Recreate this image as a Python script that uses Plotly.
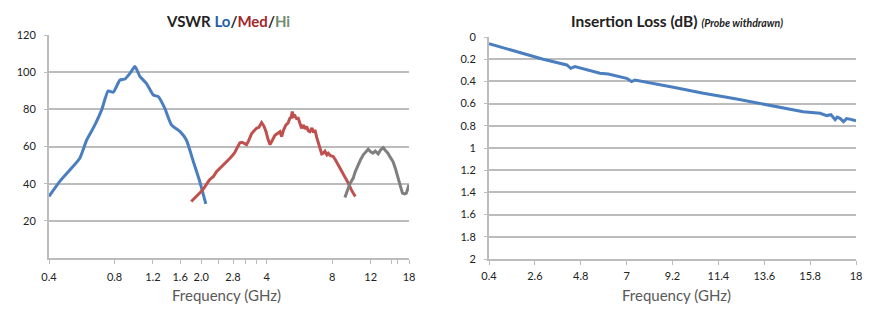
import plotly.graph_objects as go
import math

# ---- VSWR data (frequency GHz, VSWR value) ----
lo_freq = [0.40, 0.45, 0.50, 0.554, 0.596, 0.650, 0.698, 0.748, 0.789, 0.847, 0.893, 0.942,
           0.993, 1.047, 1.12, 1.205, 1.27, 1.36, 1.46, 1.60, 1.71, 1.84, 1.97, 2.10]
lo_vswr = [33.1, 41.5, 47.5, 53.7, 63.5, 71.6, 79.7, 89.9, 89.2, 95.8, 96.3, 99.4,
           103, 97.6, 94, 87.7, 86.8, 80.6, 71.6, 68, 63.5, 51.9, 41.1, 29.1]

med_freq = [1.80, 1.88, 1.95, 2.01, 2.07, 2.12, 2.18, 2.23, 2.28, 2.35, 2.44, 2.52, 2.60, 2.71,
            2.80, 2.86, 2.93, 3.01, 3.08, 3.15, 3.23, 3.30, 3.41, 3.50, 3.59, 3.68, 3.79, 3.88,
            3.97, 4.05, 4.14, 4.25, 4.36, 4.48, 4.60, 4.68, 4.78, 4.90, 5.00, 5.11, 5.18, 5.24,
            5.30, 5.39, 5.48, 5.58, 5.68, 5.78, 5.90, 6.00, 6.10, 6.20, 6.31, 6.45, 6.56, 6.66,
            6.78, 6.89, 7.05, 7.15, 7.27, 7.40, 7.55, 7.66, 7.85, 8.08, 8.30, 8.52, 8.75, 8.98,
            9.20, 9.47, 9.80, 10.2]
med_vswr = [30.4, 32.5, 34.5, 36, 38, 40, 42, 43, 44, 46.5, 48.3, 50, 51.5, 53.7,
            55.5, 57, 59.5, 62, 62.3, 61.5, 61, 63, 67, 68.5, 69.8, 70.3, 72.9, 71,
            68, 64, 61, 63.5, 66, 67, 68, 65.3, 69, 71.6, 72.5, 75.2, 75.8, 78.8,
            76, 76.5, 75, 75.2, 72, 69.8, 71.5, 69.5, 70.7, 68.5, 68, 70, 67.5, 68.9,
            65, 62.6, 59, 56, 56.4, 57.5, 55.5, 56.4, 55, 54.6, 52.5, 50.1, 47.5, 45.6,
            43, 40.3, 36.5, 33.1]

hi_freq = [9.14, 9.30, 9.47, 9.70, 9.98, 10.2, 10.5, 10.8, 11.1, 11.4, 11.7, 12.0, 12.3, 12.6,
           13.0, 13.3, 13.7, 14.0, 14.4, 14.8, 15.2, 15.6, 16.1, 16.5, 16.8, 17.2, 17.5, 17.8, 18.0]
hi_vswr = [32.6, 35.5, 37.6, 40.5, 43, 46.5, 50.1, 53, 55.5, 57, 58.5, 57.2, 56.4, 57.5,
           56, 58, 59.4, 58, 56.4, 54, 51.9, 48, 43, 38, 34.9, 34.5, 34.9, 37, 39.4]

# ---- Insertion loss data ----
il_freq = [0.4, 1.57, 3.0, 4.13, 4.32, 4.52, 5.40, 5.72, 6.12, 7.0, 7.24, 7.4, 9.3, 10.68,
           12.28, 13.88, 15.0, 15.47, 16.28, 16.6, 16.8, 17.0, 17.1, 17.25, 17.4, 17.55, 17.75, 18.0]
il_db = [0.060, 0.123, 0.201, 0.252, 0.282, 0.267, 0.312, 0.327, 0.333, 0.372, 0.402, 0.387,
         0.455, 0.507, 0.559, 0.613, 0.652, 0.673, 0.687, 0.708, 0.700, 0.745, 0.722, 0.735,
         0.763, 0.735, 0.742, 0.754]

# ---- tick labels ----
vswr_xticks = [0.4, 0.8, 1.2, 1.6, 2.0, 2.4, 2.8, 3.2, 3.6, 4, 8, 12, 15, 16, 18]
vswr_xlabels = ["0.4", "0.8", "1.2", "1.6", "2.0", "", "2.8", "", "", "4", "8", "12", "", "", "18"]
vswr_yticks = [20, 40, 60, 80, 100, 120]
il_xticks = [0.4, 2.6, 4.8, 7, 9.2, 11.4, 13.6, 15.8, 18]
il_yticks = [0, 0.2, 0.4, 0.6, 0.8, 1.0, 1.2, 1.4, 1.6, 1.8, 2.0]
il_ylabels = ["0", "0.2", "0.4", "0.6", "0.8", "1", "1.2", "1.4", "1.6", "1.8", "2"]

W, H = 894, 322
FONT = "Lato"
GRID = "#bcbcbc"
BLUE = "#4a7ebf"
RED = "#c0504d"
GRAY = "#7f7f7f"

fig = go.Figure()
fig.add_trace(go.Scatter(x=lo_freq, y=lo_vswr, mode="lines",
                         line=dict(color=BLUE, width=3, shape="spline", smoothing=0.5),
                         xaxis="x", yaxis="y", showlegend=False))
fig.add_trace(go.Scatter(x=med_freq, y=med_vswr, mode="lines", line=dict(color=RED, width=3),
                         xaxis="x", yaxis="y", showlegend=False))
fig.add_trace(go.Scatter(x=hi_freq, y=hi_vswr, mode="lines", line=dict(color=GRAY, width=3),
                         xaxis="x", yaxis="y", showlegend=False))
fig.add_trace(go.Scatter(x=il_freq, y=il_db, mode="lines", line=dict(color=BLUE, width=3),
                         xaxis="x2", yaxis="y2", showlegend=False))


def px_x(p):
    return p / W


def px_y(p):
    return 1 - p / H


tickfont = dict(family=FONT, size=11, color="#222222")

fig.update_layout(
    width=W, height=H,
    margin=dict(l=0, r=0, t=0, b=0, autoexpand=False),
    paper_bgcolor="white", plot_bgcolor="white",
    font=dict(family=FONT),
    xaxis=dict(domain=[px_x(49), px_x(409)], type="log",
               range=[math.log10(0.4), math.log10(18)],
               tickmode="array", tickvals=vswr_xticks, ticktext=vswr_xlabels,
               ticks="outside", ticklen=4, tickcolor=GRID, tickwidth=1,
               showgrid=False, showline=True, linecolor=GRID, linewidth=2,
               zeroline=False, tickfont=tickfont, anchor="y", automargin=False,
               ticklabelstandoff=4),
    yaxis=dict(domain=[px_y(258), px_y(35)], range=[0, 120],
               tickmode="array", tickvals=vswr_yticks,
               ticks="outside", ticklen=3, tickcolor=GRID,
               showgrid=True, gridcolor=GRID, gridwidth=1.5,
               showline=True, linecolor=GRID, linewidth=2,
               zeroline=False, tickfont=tickfont, anchor="x", ticklabelstandoff=6,
               automargin=False),
    xaxis2=dict(domain=[px_x(489), px_x(856)], range=[0.4, 18],
                tickmode="array", tickvals=il_xticks,
                ticks="outside", ticklen=4, tickcolor=GRID,
                showgrid=False, showline=True, linecolor=GRID, linewidth=2,
                zeroline=False, tickfont=tickfont, anchor="y2", automargin=False,
                ticklabelstandoff=2),
    yaxis2=dict(domain=[px_y(259), px_y(37)], range=[2, 0],
                tickmode="array", tickvals=il_yticks, ticktext=il_ylabels,
                ticks="outside", ticklen=3, tickcolor=GRID,
                showgrid=True, gridcolor=GRID, gridwidth=1.5,
                showline=True, linecolor=GRID, linewidth=2,
                zeroline=False, tickfont=tickfont, anchor="x2", ticklabelstandoff=6,
                automargin=False),
)

annots = [
    dict(x=px_x(228), y=px_y(21), xref="paper", yref="paper",
         text="<b>VSWR <span style='color:#1f5fa8'>Lo</span>/<span style='color:#a3282a'>Med</span>/<span style='color:#6e8c6e'>Hi</span></b>",
         showarrow=False, font=dict(family=FONT, size=15, color="#222222"),
         xanchor="center", yanchor="middle"),
    dict(x=px_x(677), y=px_y(21), xref="paper", yref="paper",
         text="<b>Insertion Loss (dB)</b> <b><i><span style='font-size:10.5px'>(Probe withdrawn)</span></i></b>",
         showarrow=False, font=dict(family=FONT, size=15.5, color="#222222"),
         xanchor="center", yanchor="middle"),
    dict(x=px_x(226), y=px_y(295), xref="paper", yref="paper", text="Frequency (GHz)",
         showarrow=False, font=dict(family=FONT, size=15, color="#595959"),
         xanchor="center", yanchor="middle"),
    dict(x=px_x(676), y=px_y(295), xref="paper", yref="paper", text="Frequency (GHz)",
         showarrow=False, font=dict(family=FONT, size=15, color="#595959"),
         xanchor="center", yanchor="middle"),
]
fig.update_layout(annotations=annots)

fig.write_html("out.html")
